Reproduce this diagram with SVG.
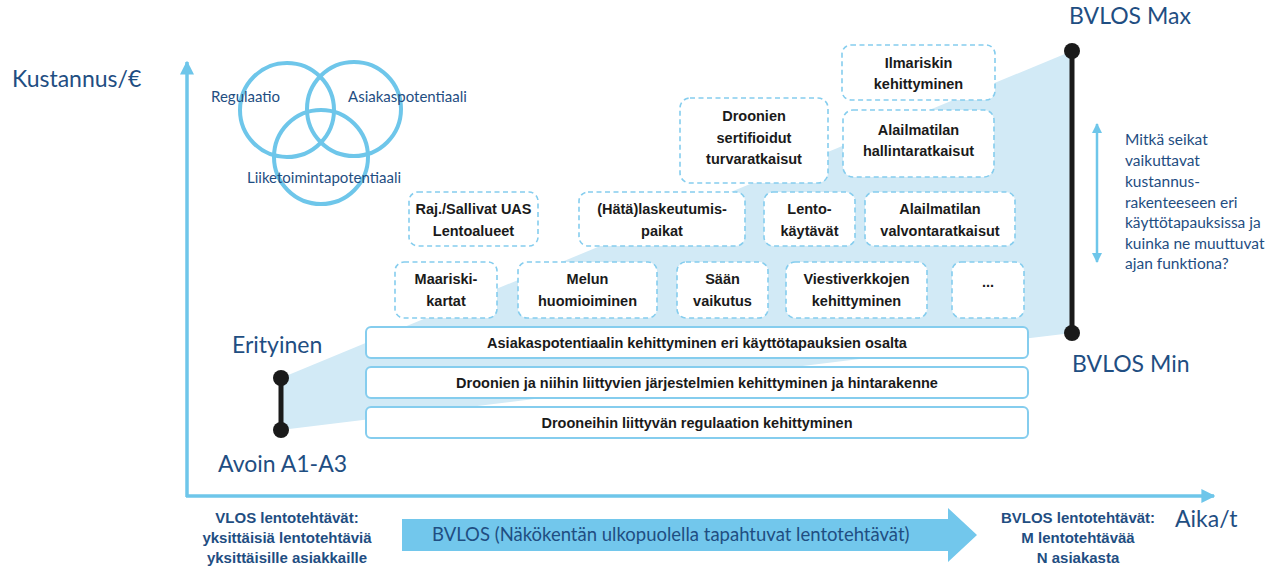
<svg xmlns="http://www.w3.org/2000/svg" width="1281" height="572" viewBox="0 0 1281 572">
<style>
  .blue { fill: #1f4e82; font-family: "Lato", "Liberation Sans", sans-serif; }
  .lbl { font-size: 23px; }
  .venn { font-size: 15px; }
  .bt { fill: #1a1a1a; font-family: "Liberation Sans", sans-serif; font-weight: bold; font-size: 14.5px; text-anchor: middle; }
  .dash { fill: #ffffff; stroke: #85cdee; stroke-width: 1.6; stroke-dasharray: 5 3.5; }
  .bar { fill: #ffffff; stroke: #85cdee; stroke-width: 2; }
  .circ { fill: none; stroke: #6ec6ea; stroke-width: 4; }
  .axis { stroke: #6ec6ea; stroke-width: 3.5; fill: none; }
  .bot { fill: #1f4e82; font-family: "Liberation Sans", sans-serif; font-weight: bold; font-size: 15px; text-anchor: middle; }
</style>
<defs>
  <marker id="ah" viewBox="0 0 10 10" refX="9" refY="5" markerWidth="4" markerHeight="4" orient="auto-start-reverse" markerUnits="strokeWidth">
    <path d="M0,0 L10,5 L0,10 z" fill="#6ec6ea"/>
  </marker>
  <marker id="ah2" viewBox="0 0 10 10" refX="9" refY="5" markerWidth="4" markerHeight="4.5" orient="auto-start-reverse" markerUnits="strokeWidth">
    <path d="M0,0 L10,5 L0,10 z" fill="#6ec6ea"/>
  </marker>
</defs>
<rect width="1281" height="572" fill="#ffffff"/>

<!-- band -->
<polygon id="band" points="281,378 1072,51 1072,333 281,430" fill="#d2eaf6"/>

<!-- connectors / axes -->
<g id="connectors">
  <line class="axis" x1="187" y1="497" x2="187" y2="62" marker-end="url(#ah)"/>
  <line class="axis" x1="186" y1="496" x2="1214" y2="496" marker-end="url(#ah)"/>
  <line x1="1097" y1="124" x2="1097" y2="262" stroke="#6ec6ea" stroke-width="2.5" marker-start="url(#ah2)" marker-end="url(#ah2)"/>
</g>

<!-- black bars -->
<g id="bar-left">
  <line x1="281" y1="378" x2="281" y2="430" stroke="#1a1a1a" stroke-width="5"/>
  <circle cx="281" cy="378" r="8" fill="#1a1a1a"/>
  <circle cx="281" cy="430" r="8" fill="#1a1a1a"/>
</g>
<g id="bar-right">
  <line x1="1072" y1="51" x2="1072" y2="333" stroke="#1a1a1a" stroke-width="5"/>
  <circle cx="1072" cy="51" r="8" fill="#1a1a1a"/>
  <circle cx="1072" cy="333" r="8" fill="#1a1a1a"/>
</g>

<!-- labels -->
<text id="y-label" class="blue lbl" x="12" y="87">Kustannus/€</text>
<text id="x-label" class="blue" x="1175" y="527" font-size="23">Aika/t</text>
<text id="bvlos-max" class="blue lbl" x="1069" y="24">BVLOS Max</text>
<text id="bvlos-min" class="blue lbl" x="1072" y="372">BVLOS Min</text>
<text id="erityinen" class="blue lbl" x="232" y="353">Erityinen</text>
<text id="avoin" class="blue lbl" x="218" y="472">Avoin A1-A3</text>

<g id="question" class="blue" font-size="15.5">
  <text x="1125" y="145">Mitkä seikat</text>
  <text x="1125" y="166">vaikuttavat</text>
  <text x="1125" y="187">kustannus-</text>
  <text x="1125" y="208">rakenteeseen eri</text>
  <text x="1125" y="228">käyttötapauksissa ja</text>
  <text x="1125" y="249">kuinka ne muuttuvat</text>
  <text x="1125" y="269">ajan funktiona?</text>
</g>

<!-- venn -->
<g id="venn">
  <circle class="circ" cx="287" cy="110" r="47"/>
  <circle class="circ" cx="354" cy="109" r="47"/>
  <circle class="circ" cx="321" cy="157" r="47"/>
  <text class="blue venn" x="211" y="102">Regulaatio</text>
  <text class="blue venn" x="348" y="102">Asiakaspotentiaali</text>
  <text class="blue venn" x="247" y="183">Liiketoimintapotentiaali</text>
</g>

<!-- dashed boxes -->
<g id="ilmariski"><rect class="dash" x="842" y="45" width="153" height="55" rx="9"/><text class="bt" x="918.5" y="68">Ilmariskin</text><text class="bt" x="918.5" y="89">kehittyminen</text></g>
<g id="sertifioidut"><rect class="dash" x="680" y="98" width="148" height="85" rx="10"/><text class="bt" x="754" y="121">Droonien</text><text class="bt" x="754" y="143">sertifioidut</text><text class="bt" x="754" y="164">turvaratkaisut</text></g>
<g id="hallinta"><rect class="dash" x="843" y="110" width="151" height="67" rx="10"/><text class="bt" x="918.5" y="135">Alailmatilan</text><text class="bt" x="918.5" y="156">hallintaratkaisut</text></g>

<g id="raj"><rect class="dash" x="409" y="192" width="129" height="54" rx="9"/><text class="bt" x="473.5" y="214">Raj./Sallivat UAS</text><text class="bt" x="473.5" y="236">Lentoalueet</text></g>
<g id="hata"><rect class="dash" x="579" y="192" width="166" height="54" rx="9"/><text class="bt" x="662" y="214">(Hätä)laskeutumis-</text><text class="bt" x="662" y="236">paikat</text></g>
<g id="lento"><rect class="dash" x="764" y="192" width="91" height="54" rx="9"/><text class="bt" x="809.5" y="214">Lento-</text><text class="bt" x="809.5" y="236">käytävät</text></g>
<g id="valvonta"><rect class="dash" x="865" y="192" width="150" height="54" rx="9"/><text class="bt" x="940" y="214">Alailmatilan</text><text class="bt" x="940" y="236">valvontaratkaisut</text></g>

<g id="maariski"><rect class="dash" x="395" y="262" width="102" height="56" rx="9"/><text class="bt" x="446" y="284">Maariski-</text><text class="bt" x="446" y="306">kartat</text></g>
<g id="melun"><rect class="dash" x="518" y="262" width="139" height="56" rx="9"/><text class="bt" x="587.5" y="284">Melun</text><text class="bt" x="587.5" y="306">huomioiminen</text></g>
<g id="saan"><rect class="dash" x="677" y="262" width="91" height="56" rx="9"/><text class="bt" x="722.5" y="284">Sään</text><text class="bt" x="722.5" y="306">vaikutus</text></g>
<g id="viesti"><rect class="dash" x="786" y="262" width="141" height="56" rx="9"/><text class="bt" x="856.5" y="284">Viestiverkkojen</text><text class="bt" x="856.5" y="306">kehittyminen</text></g>
<g id="more"><rect class="dash" x="952" y="262" width="72" height="56" rx="9"/><text class="bt" x="988" y="287" font-size="12">...</text></g>

<!-- solid bars -->
<g id="asiakas-bar"><rect class="bar" x="366" y="327" width="662" height="31" rx="5"/><text class="bt" x="697" y="348">Asiakaspotentiaalin kehittyminen eri käyttötapauksien osalta</text></g>
<g id="droonit-bar"><rect class="bar" x="366" y="367" width="662" height="31" rx="5"/><text class="bt" x="697" y="388">Droonien ja niihin liittyvien järjestelmien kehittyminen ja hintarakenne</text></g>
<g id="regulaatio-bar"><rect class="bar" x="366" y="407" width="662" height="31" rx="5"/><text class="bt" x="697" y="428">Drooneihin liittyvän regulaation kehittyminen</text></g>

<!-- bottom -->
<g id="vlos">
  <text class="bot" x="287" y="523">VLOS lentotehtävät:</text>
  <text class="bot" x="287" y="543">yksittäisiä lentotehtäviä</text>
  <text class="bot" x="287" y="563">yksittäisille asiakkaille</text>
</g>
<g id="bvlos-arrow">
  <polygon points="402,519 948,519 948,508 977,535 948,562 948,551 402,551" fill="#72c7ec"/>
  <text class="blue" x="432" y="541" font-size="18.5">BVLOS (Näkökentän ulkopuolella tapahtuvat lentotehtävät)</text>
</g>
<g id="bvlos-end">
  <text class="bot" x="1078" y="523">BVLOS lentotehtävät:</text>
  <text class="bot" x="1078" y="543">M lentotehtävää</text>
  <text class="bot" x="1078" y="563">N asiakasta</text>
</g>
</svg>
